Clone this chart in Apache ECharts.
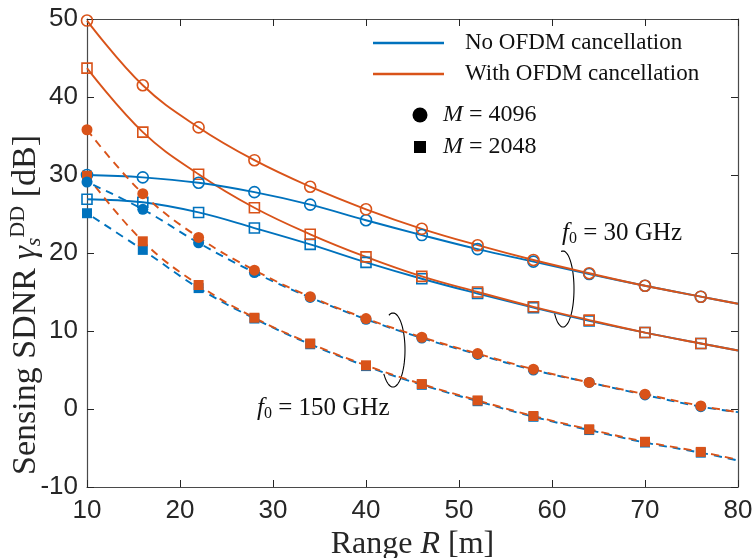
<!DOCTYPE html>
<html>
<head>
<meta charset="utf-8">
<script src="https://cdn.jsdelivr.net/npm/echarts@6/dist/echarts.min.js"></script>
<style>
  html, body { margin: 0; padding: 0; background: #fff; }
  #chartDom { width: 755px; height: 558px; }
</style>
</head>
<body>
<div id="chartDom"></div>
<script>
// range R [m]; markers at 10..76, last point (80) only carries the line
const rangeR = [10, 16, 22, 28, 34, 40, 46, 52, 58, 64, 70, 76, 80];

// f0 = 30 GHz (solid lines, open markers)
const noCanc4096_30 = [30.0, 29.7, 29.0, 27.8, 26.2, 24.2, 22.3, 20.5, 18.9, 17.3, 15.8, 14.4, 13.5];
const noCanc2048_30 = [26.9, 26.5, 25.2, 23.2, 21.1, 18.8, 16.7, 14.8, 13.0, 11.3, 9.8, 8.4, 7.5];
const canc4096_30 = [49.8, 41.5, 36.1, 31.9, 28.5, 25.6, 23.1, 21.0, 19.1, 17.4, 15.8, 14.4, 13.5];
const canc2048_30 = [43.7, 35.5, 30.1, 25.8, 22.4, 19.5, 17.0, 15.0, 13.1, 11.4, 9.8, 8.4, 7.5];

// f0 = 150 GHz (dashed lines, filled markers)
const noCanc4096_150 = [29.1, 25.6, 21.3, 17.5, 14.3, 11.5, 9.1, 7.0, 5.0, 3.4, 1.8, 0.3, -0.4];
const noCanc2048_150 = [25.1, 20.4, 15.5, 11.6, 8.3, 5.5, 3.1, 1.0, -1.0, -2.7, -4.3, -5.6, -6.6];
const canc4096_150 = [35.8, 27.6, 22.0, 17.8, 14.4, 11.6, 9.2, 7.1, 5.1, 3.4, 1.9, 0.4, -0.4];
const canc2048_150 = [29.9, 21.5, 15.9, 11.7, 8.4, 5.6, 3.2, 1.1, -0.9, -2.6, -4.2, -5.5, -6.5];

const xTicks = [10, 20, 30, 40, 50, 60, 70, 80];
const yTicks = [-10, 0, 10, 20, 30, 40, 50];

const BLUE = '#0072BD';
const ORANGE = '#D95319';
const AX = '#262626';
const SERIF = '"Liberation Serif", "DejaVu Serif", serif';
const SANS = '"Liberation Sans", Arial, sans-serif';

function pairs(vals) {
  return rangeR.map((r, i) => [r, vals[i]]);
}

// one curve: markers everywhere except the 80 m end point
function curve(vals, color, marker, filled, dashed, offset) {
  return {
    type: 'line',
    data: pairs(vals),
    smooth: 0.4,
    clip: false,
    symbol: (v, p) => (p.dataIndex === rangeR.length - 1 ? 'none' : marker),
    symbolSize: marker === 'circle' ? 11 : 10,
    lineStyle: {
      color: color,
      width: 1.9,
      type: dashed ? [8, 6] : 'solid',
      dashOffset: offset || 0
    },
    itemStyle: {
      color: filled ? color : 'rgba(255,255,255,0)',
      borderColor: color,
      borderWidth: filled ? 0 : 1.6
    },
    emphasis: { disabled: true },
    animation: false
  };
}

// open elliptical bracket (annotation only)
function bracket(cx, cy, rx, ry, a0, a1) {
  const pts = [];
  for (let a = a0; a <= a1; a += 5) {
    const t = a * Math.PI / 180;
    pts.push([cx + rx * Math.cos(t), cy + ry * Math.sin(t)]);
  }
  return {
    type: 'polyline',
    shape: { points: pts },
    style: { fill: null, stroke: '#000', lineWidth: 1.1 }
  };
}

let chart = echarts.init(document.getElementById('chartDom'));

const axisCommon = {
  type: 'value',
  axisLine: { show: true, onZero: false, lineStyle: { color: '#4a4a4a', width: 1.2 } },
  axisTick: { show: true, inside: true, length: 7, lineStyle: { color: AX, width: 1 } },
  splitLine: { show: false }
};

const mathRich = {
  i: { fontSize: 24, fontFamily: SERIF, fontStyle: 'italic', fill: '#111' },
  t: { fontSize: 24, fontFamily: SERIF, fill: '#111' }
};

const fRich = {
  i: { fontSize: 25, fontFamily: SERIF, fontStyle: 'italic', fill: '#111' },
  s: { fontSize: 16, fontFamily: SERIF, fill: '#111', verticalAlign: 'bottom', padding: [11, 0, 0, 0] },
  t: { fontSize: 25, fontFamily: SERIF, fill: '#111' }
};

chart.setOption({
  backgroundColor: '#fff',
  grid: { left: 87, right: 17, top: 19, bottom: 71, containLabel: false, outerBoundsMode: 'none' },
  xAxis: [
    Object.assign({}, axisCommon, {
      position: 'bottom',
      min: xTicks[0], max: xTicks[xTicks.length - 1], interval: 10,
      axisLabel: { fontSize: 26, color: AX, fontFamily: SANS, margin: 11 },
      name: '{t|Range }{i|R}{t| [m]}',
      nameLocation: 'middle',
      nameGap: 35,
      nameTextStyle: {
        rich: {
          t: { fontSize: 32, fontFamily: SERIF, color: AX },
          i: { fontSize: 32, fontFamily: SERIF, fontStyle: 'italic', color: AX }
        }
      }
    }),
    Object.assign({}, axisCommon, {
      position: 'top',
      min: xTicks[0], max: xTicks[xTicks.length - 1], interval: 10,
      axisLabel: { show: false }
    })
  ],
  yAxis: [
    Object.assign({}, axisCommon, {
      position: 'left',
      min: yTicks[0], max: yTicks[yTicks.length - 1], interval: 10,
      axisLabel: { fontSize: 26, color: AX, fontFamily: SANS, margin: 9 }
    }),
    Object.assign({}, axisCommon, {
      position: 'right',
      min: yTicks[0], max: yTicks[yTicks.length - 1], interval: 10,
      axisLabel: { show: false }
    })
  ],
  series: [
    curve(noCanc2048_30, BLUE, 'rect', false, false),
    curve(canc2048_30, ORANGE, 'rect', false, false),
    curve(noCanc4096_30, BLUE, 'circle', false, false),
    curve(canc4096_30, ORANGE, 'circle', false, false),
    curve(noCanc2048_150, BLUE, 'rect', true, true, 7),
    curve(canc2048_150, ORANGE, 'rect', true, true, 0),
    curve(noCanc4096_150, BLUE, 'circle', true, true, 7),
    curve(canc4096_150, ORANGE, 'circle', true, true, 0)
  ],
  graphic: [
    // y axis label
    {
      type: 'text', x: 26, y: 305, rotation: Math.PI / 2,
      style: {
        text: '{t|Sensing SDNR }{g|γ}{s|s}{u|DD}{t| [dB]}',
        align: 'center', verticalAlign: 'middle',
        rich: {
          t: { fontSize: 34, fontFamily: SERIF, fill: AX },
          g: { fontSize: 34, fontFamily: SERIF, fontStyle: 'italic', fill: AX },
          s: { fontSize: 22, fontFamily: SERIF, fontStyle: 'italic', fill: AX, verticalAlign: 'bottom', padding: [16, 0, 0, 0] },
          u: { fontSize: 22, fontFamily: SERIF, fill: AX, verticalAlign: 'top', padding: [0, 0, 14, 0] }
        }
      }
    },
    // legend
    { type: 'line', shape: { x1: 373, y1: 43, x2: 444, y2: 43 }, style: { stroke: BLUE, lineWidth: 2.5 } },
    { type: 'text', x: 465, y: 43, style: { text: 'No OFDM cancellation', font: '23px ' + SERIF, fill: '#111', verticalAlign: 'middle' } },
    { type: 'line', shape: { x1: 373, y1: 74, x2: 444, y2: 74 }, style: { stroke: ORANGE, lineWidth: 2.5 } },
    { type: 'text', x: 465, y: 74, style: { text: 'With OFDM cancellation', font: '23px ' + SERIF, fill: '#111', verticalAlign: 'middle' } },
    { type: 'circle', shape: { cx: 420, cy: 115, r: 7.5 }, style: { fill: '#000' } },
    {
      type: 'text', x: 443, y: 115,
      style: { text: '{i|M}{t| = 4096}', verticalAlign: 'middle', rich: mathRich }
    },
    { type: 'rect', shape: { x: 414, y: 141, width: 12, height: 12 }, style: { fill: '#000' } },
    {
      type: 'text', x: 443, y: 147,
      style: { text: '{i|M}{t| = 2048}', verticalAlign: 'middle', rich: mathRich }
    },
    // frequency annotations
    {
      type: 'text', x: 562, y: 233,
      style: { text: '{i|f}{s|0}{t| = 30 GHz}', verticalAlign: 'middle', rich: fRich }
    },
    {
      type: 'text', x: 257, y: 408,
      style: { text: '{i|f}{s|0}{t| = 150 GHz}', verticalAlign: 'middle', rich: fRich }
    },
    bracket(563, 289, 11, 38, -100, 140),
    bracket(393, 350, 12, 37, -110, 140)
  ]
});
</script>
</body>
</html>
